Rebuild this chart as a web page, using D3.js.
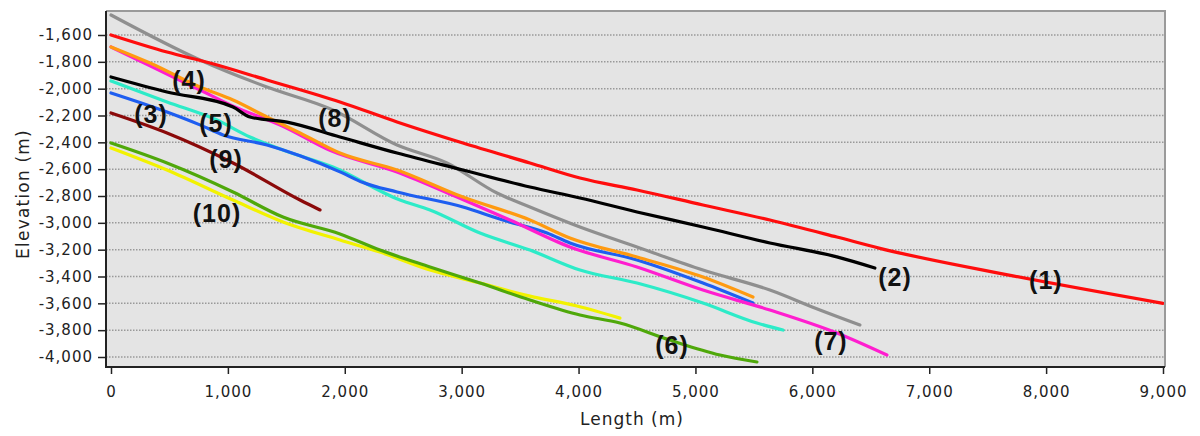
<!DOCTYPE html>
<html>
  <head>
    <meta charset="utf-8">
    <script src="https://d3js.org/d3.v7.min.js"></script>
    <style>
      body { margin: 0; background: #fff; }
      .tick text { font-family: "DejaVu Sans", sans-serif; font-size: 15px; fill: #222; letter-spacing: 1px; }
      .tick line { stroke: #222; stroke-width: 1.5; }
    </style>
  </head>
  <body>
    <div id="my_dataviz"></div>
    <script>
    // axis ticks
    var lengthTicks = [0, 1000, 2000, 3000, 4000, 5000, 6000, 7000, 8000, 9000];
    var elevTicks = [-1600, -1800, -2000, -2200, -2400, -2600, -2800, -3000, -3200, -3400, -3600, -3800, -4000];

    // profiles: [length (m), elevation (m)]
    var line1 = [[0,-1600],[479,-1727],[847,-1809],[1334,-1935],[1959,-2099],[2447,-2248],[3011,-2405],[3584,-2554],[4012,-2666],[4500,-2755],[5064,-2867],[5637,-2979],[6210,-3106],[6578,-3190],[7716,-3395],[9000,-3600]];
    var line2 = [[0,-1913],[479,-2025],[1044,-2137],[1189,-2211],[1506,-2249],[1959,-2360],[2447,-2480],[3011,-2606],[3584,-2733],[4012,-2815],[4500,-2919],[5064,-3031],[5637,-3150],[6210,-3254],[6535,-3337]];
    var line3 = [[0,-2032],[479,-2174],[761,-2270],[958,-2345],[1334,-2420],[1617,-2500],[1959,-2620],[2156,-2700],[2447,-2770],[3011,-2882],[3353,-2979],[3730,-3076],[3926,-3150],[4500,-3277],[5064,-3449],[5492,-3598]];
    var line4 = [[0,-1689],[334,-1809],[761,-1988],[1044,-2085],[1334,-2211],[1617,-2330],[1959,-2480],[2447,-2606],[3011,-2808],[3584,-2979],[3926,-3113],[4500,-3255],[5064,-3404],[5492,-3553]];
    var line5 = [[0,-1943],[479,-2099],[907,-2234],[1189,-2360],[1471,-2457],[1899,-2584],[2472,-2830],[2729,-2904],[3157,-3076],[3584,-3203],[4012,-3352],[4500,-3449],[5064,-3598],[5526,-3747],[5749,-3799]];
    var line6 = [[0,-2405],[479,-2554],[1044,-2770],[1471,-2957],[1959,-3083],[2301,-3203],[2729,-3329],[3157,-3449],[3584,-3575],[4012,-3687],[4354,-3747],[4782,-3874],[5210,-3985],[5526,-4037]];
    var line7 = [[0,-1689],[334,-1830],[761,-2010],[1044,-2130],[1471,-2280],[1873,-2460],[2447,-2621],[2960,-2808],[3413,-2979],[3926,-3180],[4500,-3329],[5064,-3501],[5637,-3650],[6210,-3821],[6638,-3985]];
    var line8 = [[0,-1451],[761,-1786],[1334,-1988],[1899,-2159],[2447,-2420],[2874,-2554],[3302,-2778],[3584,-2882],[4012,-3031],[4500,-3180],[5064,-3352],[5637,-3501],[6065,-3650],[6407,-3762]];
    var line9 = [[0,-2181],[479,-2330],[1044,-2554],[1617,-2830],[1788,-2904]];
    var line10 = [[0,-2442],[479,-2606],[1044,-2830],[1471,-2994],[1959,-3128],[2301,-3218],[2729,-3352],[3157,-3449],[3584,-3546],[3986,-3620],[4354,-3710]];

    // drawing order, bottom first
    var drawOrder = [line10, line6, line9, line5, line3, line7, line4, line8, line2, line1];
    var drawColors = ["#f2f200", "#4fa80a", "#8b0a0a", "#2debc8", "#1e5ef0", "#ff1ecf", "#ff9a10", "#8f8f8f", "#000000", "#ff0d0d"];

    // labels, placed at [length, elevation]
    var labelText = ["(1)", "(2)", "(3)", "(4)", "(5)", "(6)", "(7)", "(8)", "(9)", "(10)"];
    var labelPos = [[7998,-3426],[6707,-3404],[342,-2189],[667,-1935],[898,-2256],[4799,-3911],[6159,-3881],[1916,-2219],[984,-2524],[907,-2927]];

    var margin = {top: 11, right: 35, bottom: 69, left: 106},
      width = 1200 - margin.left - margin.right,
      height = 436 - margin.top - margin.bottom;

    var svg = d3.select("#my_dataviz")
      .append("svg")
      .attr("width", 1200)
      .attr("height", 436)
      .append("g")
      .attr("transform", "translate(" + margin.left + "," + margin.top + ")");

    var x = d3.scaleLinear().domain([0, 9000]).range([5, 1057]);
    var y = d3.scaleLinear().domain([-1600, -4000]).range([24, 346]);

    // plot background
    svg.append("rect")
      .attr("width", width)
      .attr("height", height)
      .attr("fill", "#e4e4e4");

    // dotted grid
    svg.selectAll(".grid")
      .data(elevTicks)
      .enter().append("line")
      .attr("x1", 0).attr("x2", width)
      .attr("y1", function (d) { return y(d); })
      .attr("y2", function (d) { return y(d); })
      .attr("stroke", "#999")
      .attr("stroke-width", 1.5)
      .attr("stroke-dasharray", "1.5,1.5");

    svg.append("clipPath").attr("id", "clip")
      .append("rect").attr("width", width).attr("height", height);

    var line = d3.line()
      .curve(d3.curveMonotoneX)
      .x(function (d) { return x(d[0]); })
      .y(function (d) { return y(d[1]); });

    svg.append("g").attr("clip-path", "url(#clip)")
      .selectAll("path")
      .data(drawOrder)
      .enter().append("path")
      .attr("fill", "none")
      .attr("stroke", function (d, i) { return drawColors[i]; })
      .attr("stroke-width", 3.2)
      .attr("stroke-linejoin", "round")
      .attr("stroke-linecap", "round")
      .attr("d", line);

    // frame: grey top/right, dark left/bottom
    svg.append("path")
      .attr("d", "M0,0H" + width + "V" + height)
      .attr("fill", "none").attr("stroke", "#9a9a9a").attr("stroke-width", 2);
    svg.append("path")
      .attr("d", "M0,0V" + height + "H" + width)
      .attr("fill", "none").attr("stroke", "#222").attr("stroke-width", 2);

    var fmt = d3.format(",");
    svg.append("g")
      .call(d3.axisLeft(y).tickValues(elevTicks).tickSize(8).tickPadding(5)
        .tickFormat(function (d) { return fmt(d).replace("\u2212", "-"); }))
      .call(function (g) { g.select(".domain").remove(); });

    svg.append("g")
      .attr("transform", "translate(0," + height + ")")
      .call(d3.axisBottom(x).tickValues(lengthTicks).tickSize(7).tickPadding(12).tickFormat(fmt))
      .call(function (g) { g.select(".domain").remove(); });

    // axis titles
    svg.append("text")
      .attr("x", 632 - margin.left)
      .attr("y", 425 - margin.top)
      .attr("text-anchor", "middle")
      .style("font-family", "DejaVu Sans, sans-serif")
      .style("font-size", "17px")
      .style("letter-spacing", "1px")
      .attr("fill", "#222")
      .text("Length (m)");

    svg.append("text")
      .attr("transform", "translate(" + (29 - margin.left) + "," + (194 - margin.top) + ") rotate(-90)")
      .attr("text-anchor", "middle")
      .style("font-family", "DejaVu Sans, sans-serif")
      .style("font-size", "17px")
      .style("letter-spacing", "1.2px")
      .attr("fill", "#222")
      .text("Elevation (m)");

    // series numbers
    svg.selectAll(".lbl")
      .data(labelText)
      .enter().append("text")
      .attr("x", function (d, i) { return x(labelPos[i][0]); })
      .attr("y", function (d, i) { return y(labelPos[i][1]); })
      .attr("dy", "0.36em")
      .attr("text-anchor", "middle")
      .style("font-family", "Liberation Sans, Arial, sans-serif")
      .style("font-weight", "bold")
      .style("font-size", "25px")
      .style("letter-spacing", "1px")
      .attr("fill", "#111")
      .text(function (d) { return d; });
    </script>
  </body>
</html>
